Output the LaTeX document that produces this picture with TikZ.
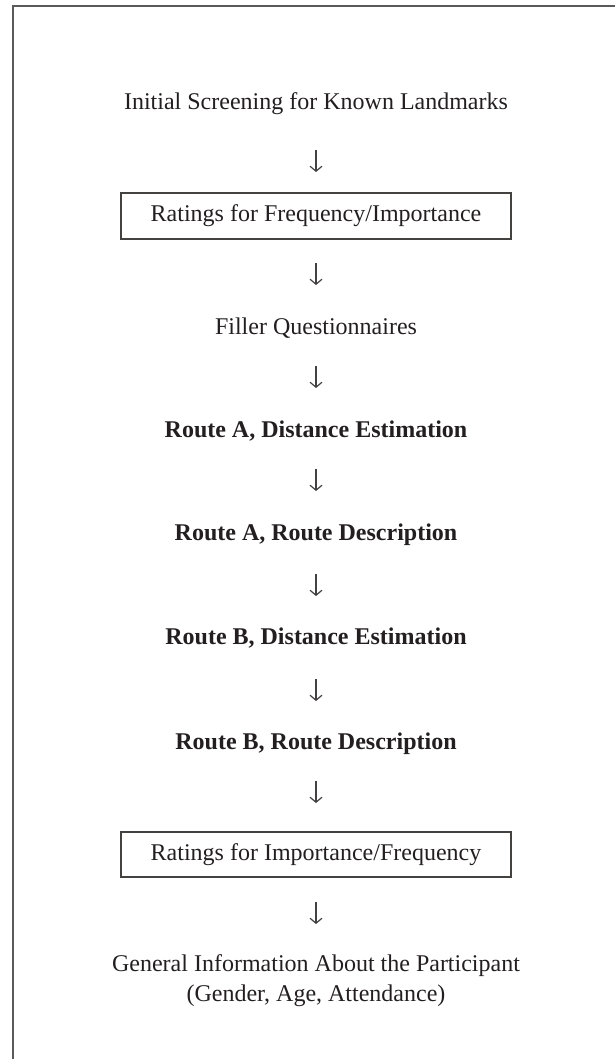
\documentclass[tikz,border=0pt]{standalone}
\usepackage{fontspec}
\setmainfont{Liberation Serif}
\usetikzlibrary{arrows.meta}
\definecolor{ink}{HTML}{231F20}
\definecolor{framegray}{HTML}{5A5A5A}
\begin{document}
\begin{tikzpicture}[x=1pt,y=-1pt,
  lbl/.style={font=\fontsize{24}{30}\selectfont, text=ink, anchor=base, inner sep=0pt},
  blbl/.style={lbl, font=\fontsize{24}{30}\selectfont\bfseries},
  ratebox/.style={draw=ink!85, line width=1.3pt, minimum width=390pt, minimum height=46pt,
    text height=16pt, text depth=5pt, inner sep=0pt, font=\fontsize{24}{30}\selectfont, text=ink},
  arr/.style={draw=ink!85, line width=1.2pt, -{Straight Barb[length=5pt,width=12pt]}},
  framelines/.style={draw=framegray, line width=2pt}
]
\useasboundingbox (0,0) rectangle (615,1059);
\draw[framelines] (13,1060) -- (13,6.5) -- (616,6.5);

\node[lbl] (n1) at (316,110) {Initial Screening for Known Landmarks};
\node[ratebox] (b1) at (316,216) {Ratings for Frequency/Importance};
\node[lbl] (n3) at (316,334) {Filler Questionnaires};
\node[blbl] (n4) at (316,437) {Route A, Distance Estimation};
\node[blbl] (n5) at (316,540) {Route A, Route Description};
\node[blbl] (n6) at (316,644) {Route B, Distance Estimation};
\node[blbl] (n7) at (316,749) {Route B, Route Description};
\node[ratebox, minimum height=45pt] (b2) at (316,854.5) {Ratings for Importance/Frequency};
\node[font=\fontsize{24}{30}\selectfont, text=ink, align=center, inner sep=0pt] (n9) at (316,981)
  {General Information About the Participant\\(Gender, Age, Attendance)};

\coordinate (a1s) at (316,150); \coordinate (a1e) at (316,172);
\coordinate (a2s) at (316,263); \coordinate (a2e) at (316,285);
\coordinate (a3s) at (316,366); \coordinate (a3e) at (316,388);
\coordinate (a4s) at (316,469); \coordinate (a4e) at (316,491);
\coordinate (a5s) at (316,574); \coordinate (a5e) at (316,596);
\coordinate (a6s) at (316,679); \coordinate (a6e) at (316,701);
\coordinate (a7s) at (316,781); \coordinate (a7e) at (316,803);
\coordinate (a8s) at (316,902); \coordinate (a8e) at (316,924);
\foreach \i in {1,...,8} { \draw[arr] (a\i s) -- (a\i e); }
\end{tikzpicture}
\end{document}
